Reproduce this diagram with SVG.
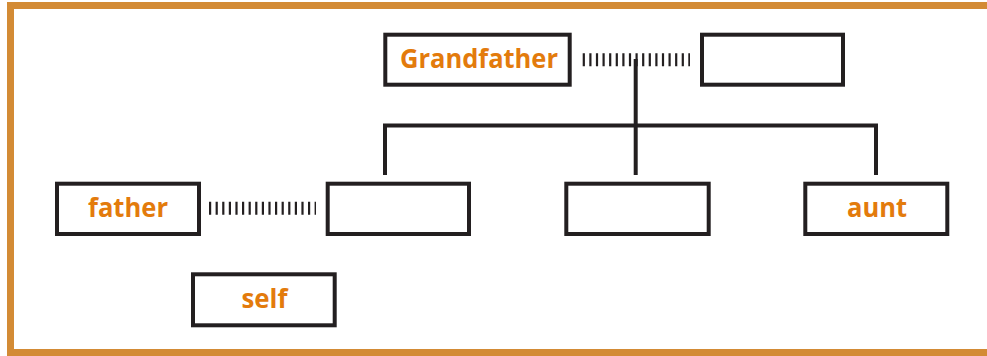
<svg xmlns="http://www.w3.org/2000/svg" width="987" height="356" viewBox="0 0 987 356">
<style>
.box{fill:#fff;stroke:#231f20;stroke-width:4}
.lbl{font-family:"Open Sans","Noto Sans",sans-serif;font-weight:bold;font-size:27.5px;fill:#e37b0c;text-anchor:middle}
.line{stroke:#231f20;stroke-width:4;fill:none}
.dash{stroke:#231f20;stroke-width:13;stroke-dasharray:2.2 4.4;fill:none}
</style>
<rect x="10.5" y="5.5" width="990" height="347" fill="#fff" stroke="#d38b35" stroke-width="7"/>
<g id="connectors">
<line class="dash" x1="582.7" y1="59.7" x2="690" y2="59.7"/>
<line class="dash" x1="209" y1="208.3" x2="316" y2="208.3"/>
<line class="line" x1="635.7" y1="59" x2="635.7" y2="175"/>
<polyline class="line" points="385,175 385,125.5 876,125.5 876,175"/>
</g>
<g id="grandfather"><rect class="box" x="385.3" y="34.7" width="184.4" height="50"/><text class="lbl" x="479" y="67.7" textLength="158" lengthAdjust="spacingAndGlyphs">Grandfather</text></g>
<g id="grandmother"><rect class="box" x="702" y="34.7" width="141" height="50"/></g>
<g id="father"><rect class="box" x="57" y="183.7" width="142" height="50.3"/><text class="lbl" x="128" y="216.7" textLength="80" lengthAdjust="spacingAndGlyphs">father</text></g>
<g id="mother"><rect class="box" x="327.7" y="183.7" width="141.3" height="50.3"/></g>
<g id="sibling"><rect class="box" x="566.3" y="183.7" width="142.4" height="50.3"/></g>
<g id="aunt"><rect class="box" x="805.3" y="183.7" width="142" height="50.3"/><text class="lbl" x="877" y="216.7" textLength="60" lengthAdjust="spacingAndGlyphs">aunt</text></g>
<g id="self"><rect class="box" x="193" y="274.3" width="141.7" height="51"/><text class="lbl" x="264.5" y="308" textLength="46" lengthAdjust="spacingAndGlyphs">self</text></g>
</svg>
